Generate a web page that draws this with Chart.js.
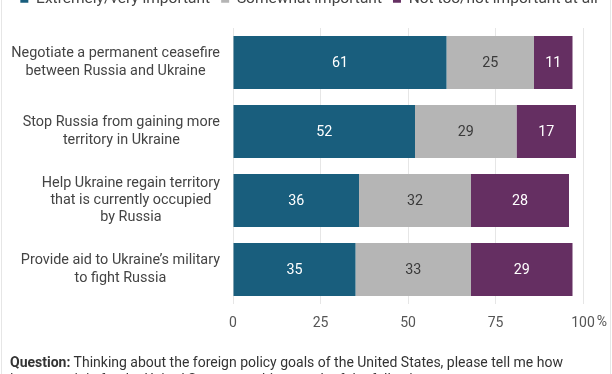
<!DOCTYPE html>
<html><head><meta charset="utf-8">
<script src="https://cdn.jsdelivr.net/npm/chart.js@4"></script>
<style>
html,body{margin:0;padding:0;width:612px;height:374px;overflow:hidden;background:#fff;font-family:Roboto,sans-serif}
#wrap{position:absolute;left:0;top:-20px;width:612px;height:394px}
#edgeL{position:absolute;left:1px;top:0;width:1px;height:374px;background:#e6e6e6}
#edgeR{position:absolute;left:610px;top:0;width:1px;height:374px;background:#e6e6e6}
#note{position:absolute;left:10px;top:354px;font-size:14px;line-height:17px;color:#333;white-space:nowrap}
</style></head><body>
<div id="wrap"><canvas id="c" width="612" height="394"></canvas></div>
<div id="edgeL"></div><div id="edgeR"></div>
<div id="note"><b>Question:</b> Thinking about the foreign policy goals of the United States, please tell me how<br>important it is for the United States to achieve each of the following.</div>
<script>
const categories = [
  ["Negotiate a permanent ceasefire", "between Russia and Ukraine"],
  ["Stop Russia from gaining more", "territory in Ukraine"],
  ["Help Ukraine regain territory", "that is currently occupied", "by Russia"],
  ["Provide aid to Ukraine\u2019s military", "to fight Russia"]
];
const seriesNames = ["Extremely/very important", "Somewhat important", "Not too/not important at all"];
const veryImportant = [61, 52, 36, 35];
const somewhatImportant = [25, 29, 32, 33];
const notImportant = [11, 17, 28, 29];
const tickValues = [0, 25, 50, 75, 100];

const colors = ["#195e7d", "#b5b5b5", "#652f62"];
const labelColors = ["#ffffff", "#3a3a3a", "#ffffff"];
const FONT = "Roboto, sans-serif";

const legendFit = {
  id: 'legendFit',
  beforeInit(chart) {
    const lg = chart.legend;
    const orig = lg.fit;
    lg.fit = function () { this.maxWidth = 612; orig.bind(lg)(); this.height = 48; };
  },
  afterLayout(chart) {
    const lg = chart.legend;
    lg.left = 6; lg.right = 612; lg.width = 606;
  }
};

const barLabels = {
  id: 'barLabels',
  afterDatasetsDraw(chart) {
    const ctx = chart.ctx;
    ctx.save();
    ctx.font = "14.3px " + FONT;
    ctx.textAlign = "center";
    ctx.textBaseline = "middle";
    chart.data.datasets.forEach((ds, di) => {
      const meta = chart.getDatasetMeta(di);
      meta.data.forEach((bar, i) => {
        ctx.fillStyle = labelColors[di];
        ctx.fillText(String(ds.data[i]), (bar.x + bar.base) / 2, bar.y + 1);
      });
    });
    ctx.restore();
  }
};

const catLabels = {
  id: 'catLabels',
  afterDraw(chart) {
    const ctx = chart.ctx;
    const ys = chart.scales.y;
    ctx.save();
    ctx.font = "14.4px " + FONT;
    ctx.fillStyle = "#444";
    ctx.textAlign = "center";
    ctx.textBaseline = "middle";
    const lh = 17.3;
    categories.forEach((lines, i) => {
      const y = ys.getPixelForTick(i);
      const widest = Math.max(...lines.map(l => ctx.measureText(l).width));
      const cx = ys.right - 13 - widest / 2;
      const y0 = y - (lines.length - 1) * lh / 2;
      lines.forEach((l, k) => ctx.fillText(l, cx, y0 + k * lh));
    });
    // percent sign after the last x tick
    const xs = chart.scales.x;
    ctx.font = "14px " + FONT;
    ctx.fillStyle = "#555";
    ctx.textAlign = "left";
    const last = tickValues[tickValues.length - 1];
    const px = xs.getPixelForValue(last);
    const w = ctx.measureText(String(last)).width;
    ctx.fillText("%", px + w / 2 + 2, xs.top + 18);
    ctx.restore();
  }
};

new Chart(document.getElementById('c'), {
  type: 'bar',
  data: {
    labels: categories,
    datasets: [
      { label: seriesNames[0], data: veryImportant, backgroundColor: colors[0] },
      { label: seriesNames[1], data: somewhatImportant, backgroundColor: colors[1] },
      { label: seriesNames[2], data: notImportant, backgroundColor: colors[2] }
    ]
  },
  options: {
    responsive: false,
    animation: false,
    indexAxis: 'y',
    layout: { padding: { left: 0, right: 29, top: 0, bottom: 0 } },
    datasets: { bar: { categoryPercentage: 1, barPercentage: 0.77 } },
    plugins: {
      legend: {
        position: 'top',
        labels: { boxWidth: 8, boxHeight: 8, padding: 11, color: '#444', font: { family: FONT, size: 15.5 } }
      },
      tooltip: { enabled: false }
    },
    scales: {
      x: {
        stacked: true,
        min: 0, max: 100,
        afterBuildTicks(scale) { scale.ticks = tickValues.map(v => ({ value: v })); },
        afterFit(scale) { scale.height = 70; },
        grid: { color: '#e6e6e6', drawTicks: false },
        border: { display: false },
        ticks: { padding: 11, color: '#555', font: { family: FONT, size: 14 }, callback: v => String(v) }
      },
      y: {
        stacked: true,
        afterFit(scale) { scale.width = 233; },
        grid: { display: false },
        border: { display: false },
        ticks: { display: false }
      }
    }
  },
  plugins: [legendFit, barLabels, catLabels]
});
</script>
</body></html>
